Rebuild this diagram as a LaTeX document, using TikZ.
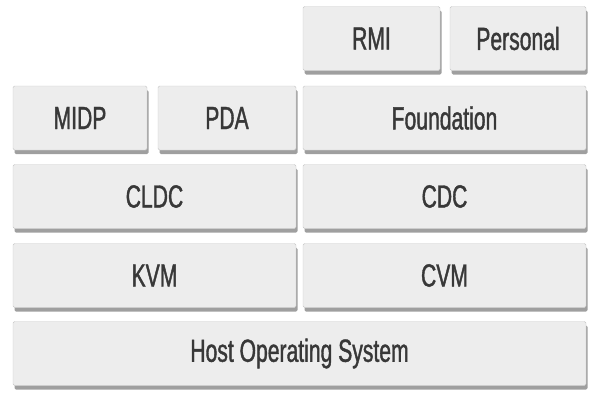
\documentclass[tikz,border=0pt]{standalone}
\usepackage{fontspec}
\setmainfont{Liberation Sans}[FakeStretch=0.66, FakeBold=1.2]
\usetikzlibrary{shadows}

\tikzset{
  layer/.style={draw=gray!45, fill=gray!14, rounded corners=1.5pt,
    minimum height=64pt, inner sep=0pt, text=black!78,
    font=\fontsize{32}{34}\selectfont,
    general shadow={fill=gray!75, shadow xshift=1.5pt, shadow yshift=-4pt}},
}

\begin{document}
\begin{tikzpicture}[x=1pt, y=-1pt]
\useasboundingbox (0,0) rectangle (589,394);
% top row
\node[layer, minimum width=137pt] (rmi) at (371.5,38.5) {RMI};
\node[layer, minimum width=136pt] (personal) at (518,38.5) {Personal};
% profiles
\node[layer, minimum width=134pt] (midp) at (80,118) {MIDP};
\node[layer, minimum width=138pt] (pda) at (227,118) {PDA};
\node[layer, minimum width=283pt] (foundation) at (444.5,118) {Foundation};
% configurations
\node[layer, minimum width=283pt] (cldc) at (154.5,196.5) {CLDC};
\node[layer, minimum width=283pt] (cdc) at (444.5,196.5) {CDC};
% virtual machines
\node[layer, minimum width=283pt] (kvm) at (154.5,275.5) {KVM};
\node[layer, minimum width=283pt] (cvm) at (444.5,275.5) {CVM};
% host
\node[layer, minimum width=573pt] (host) at (299.5,353.5) {Host Operating System};
\end{tikzpicture}
\end{document}
